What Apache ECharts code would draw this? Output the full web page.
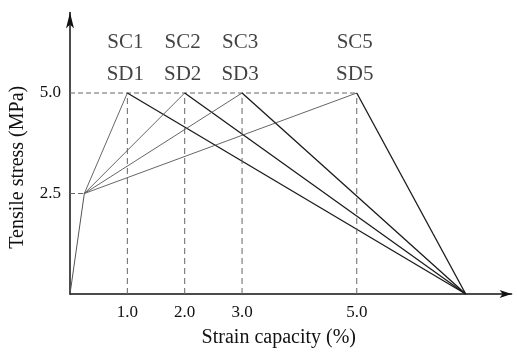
<!DOCTYPE html>
<html>
<head>
<meta charset="utf-8">
<script src="https://cdn.jsdelivr.net/npm/echarts@6/dist/echarts.min.js"></script>
<style>
html,body{margin:0;padding:0;background:#fff;}
#chart{width:517px;height:355px;}
</style>
</head>
<body>
<div id="chart"></div>
<script>
// Data
const specimens = ['1', '2', '3', '5'];
const peakStrain = [1.0, 2.0, 3.0, 5.0];
const peakStress = [5.0, 5.0, 5.0, 5.0];
const firstCrack = [0.25, 2.5];   // strain, stress of first cracking
const failStrain = 6.9;           // common end point on the strain axis
const xTickLabels = [1.0, 2.0, 3.0, 5.0];
const yTickLabels = [2.5, 5.0];
const labelTop = 6.25;
const labelBottom = 5.45;

const FONT = '"Liberation Serif", "DejaVu Serif", serif';
const series = [];

// initial elastic branch
series.push({
  type: 'line', data: [[0, 0], firstCrack], symbol: 'none', silent: true,
  lineStyle: { color: '#555', width: 1 }
});
// dashed guide at first crack
series.push({
  type: 'line', data: [[0, firstCrack[1]], firstCrack], symbol: 'none', silent: true,
  lineStyle: { color: '#666', width: 1, type: [5, 3] }
});
// dashed horizontal at peak stress
series.push({
  type: 'line', data: [[0, peakStress[0]], [Math.max(...peakStrain), peakStress[0]]], symbol: 'none', silent: true,
  lineStyle: { color: '#666', width: 1, type: [5, 3] }
});
peakStrain.forEach((s, i) => {
  // vertical dashed guide
  series.push({
    type: 'line', data: [[s, 0], [s, peakStress[i]]], symbol: 'none', silent: true,
    lineStyle: { color: '#666', width: 1, type: [6, 4] }
  });
  // hardening branch
  series.push({
    type: 'line', data: [firstCrack, [s, peakStress[i]]], symbol: 'none', silent: true,
    lineStyle: { color: '#555', width: 0.9 }
  });
  // softening branch
  series.push({
    type: 'line', data: [[s, peakStress[i]], [failStrain, 0]], symbol: 'none', silent: true,
    lineStyle: { color: '#1a1a1a', width: 1.3 }
  });
});
// labels
const labelData = [];
peakStrain.forEach((s, i) => {
  labelData.push([s, labelTop, 'SC' + specimens[i]]);
  labelData.push([s, labelBottom, 'SD' + specimens[i]]);
});
series.push({
  type: 'scatter', data: labelData, symbolSize: 0, silent: true,
  label: {
    show: true, position: 'inside', offset: [-2, 0],
    formatter: p => p.value[2],
    fontFamily: FONT, fontSize: 21, color: '#111'
  }
});

const chart = echarts.init(document.getElementById('chart'), null, { renderer: 'canvas' });
chart.setOption({
  animation: false,
  backgroundColor: '#fff',
  grid: { left: 70, top: 12.6, width: 57.35 * 7.7, height: 281.4, containLabel: false },
  xAxis: {
    type: 'value', min: 0, max: 7.7,
    name: 'Strain capacity (%)', nameLocation: 'middle', nameGap: 34,
    nameTextStyle: { fontFamily: FONT, fontSize: 20, color: '#111', padding: [0, 24, 0, 0] },
    axisLine: { show: true, lineStyle: { color: '#111', width: 1.5 }, symbol: ['none', 'arrow'], symbolSize: [6, 12] },
    axisTick: { show: false },
    splitLine: { show: false },
    axisLabel: {
      customValues: xTickLabels,
      formatter: v => v.toFixed(1),
      fontFamily: FONT, fontSize: 17, color: '#111', margin: 10
    }
  },
  yAxis: {
    type: 'value', min: 0, max: 7,
    name: 'Tensile stress (MPa)', nameLocation: 'middle', nameGap: 42,
    nameTextStyle: { fontFamily: FONT, fontSize: 20, color: '#111', padding: [0, 28, 0, 0] },
    nameRotate: 90,
    axisLine: { show: true, lineStyle: { color: '#111', width: 1.5 }, symbol: ['none', 'arrow'], symbolSize: [6, 16] },
    axisTick: { show: false },
    splitLine: { show: false },
    axisLabel: {
      customValues: yTickLabels,
      formatter: v => v.toFixed(1),
      fontFamily: FONT, fontSize: 17, color: '#111', margin: 9
    }
  },
  series: series
});
</script>
</body>
</html>
